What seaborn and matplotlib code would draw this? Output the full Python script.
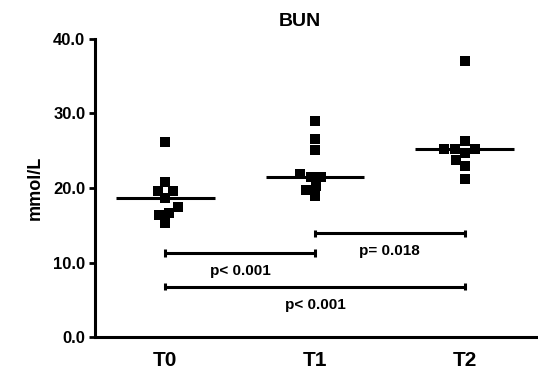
import numpy as np
import pandas as pd
import seaborn as sns
import matplotlib.pyplot as plt

groups = ["T0", "T1", "T2"]
t0 = [26.2, 20.8, 19.6, 19.6, 18.6, 17.5, 16.7, 16.4, 15.3]
t1 = [29.0, 26.6, 25.1, 21.9, 21.5, 21.5, 20.3, 19.7, 18.9]
t2 = [37.1, 26.3, 25.2, 25.2, 25.2, 24.7, 23.8, 23.0, 21.2]

# comparisons: (from, to, bracket height, label, label height, label x)
brackets = [(0, 1, 11.3, "p< 0.001", 8.9, 0.5),
            (1, 2, 13.9, "p= 0.018", 11.6, 1.5),
            (0, 2, 6.75, "p< 0.001", 4.3, 1.0)]

df = pd.DataFrame({
    "group": ["T0"] * len(t0) + ["T1"] * len(t1) + ["T2"] * len(t2),
    "BUN": t0 + t1 + t2,
})

sns.set_style("ticks")
plt.rcParams["font.family"] = ["Liberation Sans", "DejaVu Sans"]
plt.rcParams["font.weight"] = "bold"
for key in ["text.color", "axes.labelcolor", "xtick.color", "ytick.color",
            "axes.edgecolor"]:
    plt.rcParams[key] = "black"

fig = plt.figure(figsize=(5.38, 3.71), dpi=100)
ax = fig.add_axes([0.1766, 0.0916, 0.8234, 0.8033])

sns.swarmplot(data=df, x="group", y="BUN", order=groups, marker="s",
              color="black", size=7.4, linewidth=0, ax=ax)

# median lines
for i, g in enumerate(groups):
    med = np.median(df.loc[df.group == g, "BUN"])
    ax.hlines(med, i - 0.33, i + 0.33, color="black", lw=2.2, zorder=1)

# significance brackets
for a, b, h, lab, lh, lx in brackets:
    ax.hlines(h, a, b, color="black", lw=2.2)
    ax.vlines([a, b], h - 0.5, h + 0.5, color="black", lw=2.2)
    ax.text(lx, lh, lab, ha="center", va="center", fontsize=11,
            fontweight="bold")

ax.set_xlim(-0.47, 2.49)
ax.set_ylim(0, 40)
ax.set_yticks([0, 10, 20, 30, 40])
ax.set_yticklabels(["0.0", "10.0", "20.0", "30.0", "40.0"])
ax.tick_params(axis="y", length=4, width=2, labelsize=12, pad=3)
ax.tick_params(axis="x", length=0, labelsize=15, pad=10)
for lab in ax.get_xticklabels() + ax.get_yticklabels():
    lab.set_fontweight("bold")

ax.set_xlabel("")
ax.set_ylabel("mmol/L", fontsize=13, fontweight="bold", labelpad=7)
ax.set_title("BUN", fontsize=14, fontweight="bold", x=0.463, pad=9)

for side in ["top", "right"]:
    ax.spines[side].set_visible(False)
for side in ["left", "bottom"]:
    ax.spines[side].set_linewidth(2.2)

fig.savefig("out.png", dpi=100)
